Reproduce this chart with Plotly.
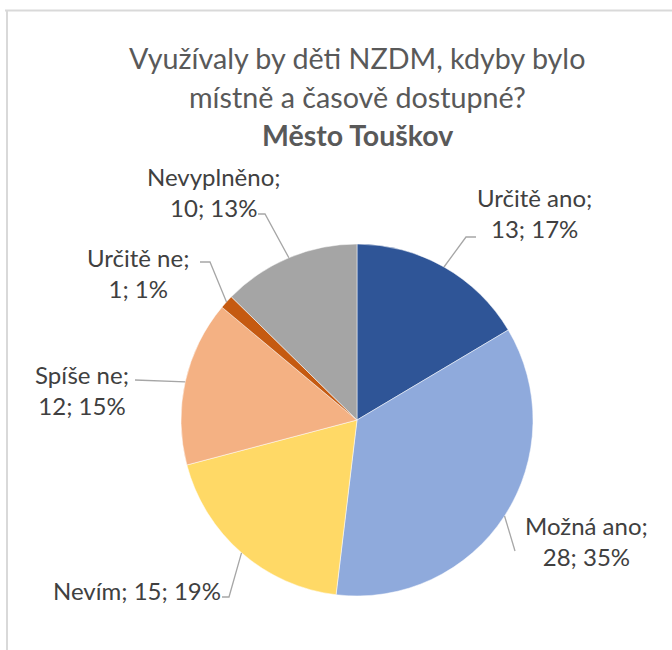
import math
import plotly.graph_objects as go

W, H = 672, 650

categories = ["Určitě ano", "Možná ano", "Nevím", "Spíše ne", "Určitě ne", "Nevyplněno"]
values = [13, 28, 15, 12, 1, 10]
percents = [17, 35, 19, 15, 1, 13]
colors = ["#2F5597", "#8FAADC", "#FFD966", "#F4B183", "#C55A11", "#A5A5A5"]
title_lines = ["Využívaly by děti NZDM, kdyby bylo", "místně a časově dostupné?", "Město Touškov"]

# layout (window pixels)
CX, CY, R = 357, 420, 176
label_pos = [(534, 213), (586, 541), (137, 590), (82, 390), (138, 273), (214, 192)]
label_break = [True, True, False, True, True, True]
elbows = [[(466, 237), (476, 237)],
          [(515, 551)],
          [(229, 597), (222, 597)],
          [(135, 380)],
          [(210, 262), (200, 262)],
          [(265, 214), (258, 214)]]


def px(x):
    return x / W


def py(y):
    return 1 - y / H


fig = go.Figure(go.Pie(
    labels=categories, values=values, sort=False, direction="clockwise",
    marker=dict(colors=colors, line=dict(color="white", width=0.5)),
    textinfo="none", hoverinfo="label+value+percent",
    domain=dict(x=[px(CX - R), px(CX + R)], y=[py(CY + R), py(CY - R)]),
    showlegend=False,
))

total = sum(values)
cum = 0
annotations = []
shapes = []
for i, (cat, v) in enumerate(zip(categories, values)):
    mid = (cum + v / 2) / total
    cum += v
    th = 2 * math.pi * mid
    ex, ey = CX + R * math.sin(th), CY - R * math.cos(th)
    pts = [(ex, ey)] + elbows[i]
    path = "M " + " L ".join(f"{px(a):.5f},{py(b):.5f}" for a, b in pts)
    shapes.append(dict(type="path", path=path, xref="paper", yref="paper",
                       line=dict(color="#A6A6A6", width=1.3)))
    sep = "<br>" if label_break[i] else " "
    txt = f"{cat};{sep}{v}; {percents[i]}%"
    lx, ly = label_pos[i]
    annotations.append(dict(text=txt, x=px(lx), y=py(ly), xref="paper", yref="paper",
                            xanchor="center", yanchor="middle", showarrow=False,
                            font=dict(family="Lato", size=24, color="#404040")))

title_y = [58, 97, 135]
title_size = [28.7, 28.7, 28.5]
for k, t in enumerate(title_lines):
    annotations.append(dict(
        text=(f"<b>{t}</b>" if k == 2 else t),
        x=px(357), y=py(title_y[k]), xref="paper", yref="paper", xanchor="center", yanchor="middle",
        showarrow=False, font=dict(family="Lato", size=title_size[k], color="#595959")))

# chart frame (top and left edges visible)
shapes.append(dict(type="line", xref="paper", yref="paper", x0=px(5), x1=1, y0=py(10.5), y1=py(10.5),
                   line=dict(color="#D9D9D9", width=2)))
shapes.append(dict(type="line", xref="paper", yref="paper", x0=px(7), x1=px(7), y0=py(10), y1=0,
                   line=dict(color="#D9D9D9", width=2)))

fig.update_layout(width=W, height=H, margin=dict(l=0, r=0, t=0, b=0),
                  paper_bgcolor="white", plot_bgcolor="white",
                  annotations=annotations, shapes=shapes)

fig.write_html("out.html", config={"displayModeBar": False},
               post_script="document.body.style.margin='0';")
